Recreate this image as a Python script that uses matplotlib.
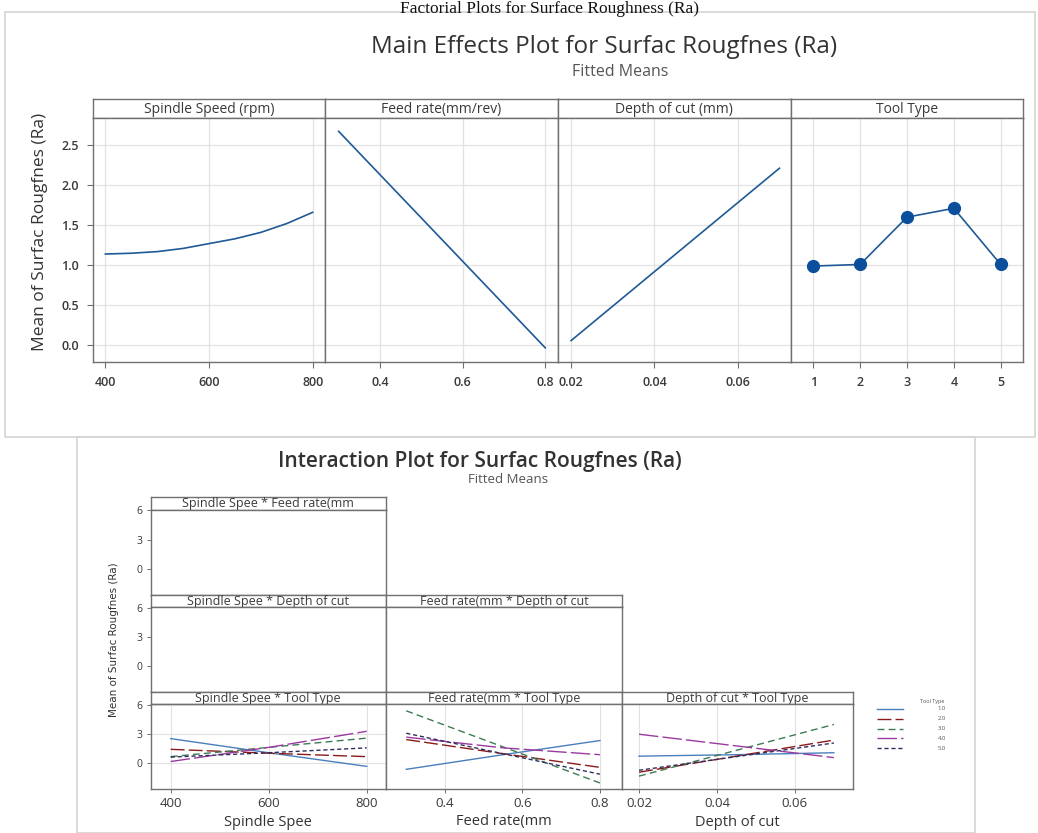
import matplotlib
matplotlib.use("Agg")
import matplotlib.pyplot as plt
from matplotlib.patches import Rectangle
import numpy as np

plt.rcParams['font.family'] = ['Open Sans', 'DejaVu Sans']

W, H = 1038, 833
fig = plt.figure(figsize=(W / 100, H / 100), dpi=100)

# ---------------- data ----------------
caption = "Factorial Plots for Surface Roughness (Ra)"
main_title = "Main Effects Plot for Surfac Rougfnes (Ra)"
sub_title = "Fitted Means"
main_ylabel = "Mean of Surfac Rougfnes (Ra)"

factor_names = ["Spindle Speed (rpm)", "Feed rate(mm/rev)", "Depth of cut (mm)", "Tool Type"]

speed_x = [400, 450, 500, 550, 600, 650, 700, 750, 800]
speed_y = [1.14, 1.15, 1.17, 1.21, 1.27, 1.33, 1.41, 1.52, 1.66]
feed_x = [0.3, 0.8]
feed_y = [2.67, -0.03]
depth_x = [0.02, 0.07]
depth_y = [0.06, 2.21]
tool_x = [1, 2, 3, 4, 5]
tool_y = [0.99, 1.01, 1.60, 1.71, 1.01]

main_yticks = [0.0, 0.5, 1.0, 1.5, 2.0, 2.5]
speed_ticks = [400, 600, 800]
feed_ticks = [0.4, 0.6, 0.8]
depth_ticks = [0.02, 0.04, 0.06]

inter_title = "Interaction Plot for Surfac Rougfnes (Ra)"
tool_levels = ["1.0", "2.0", "3.0", "4.0", "5.0"]

int_speed_x = [400, 600, 800]
int_speed_y = [[2.55, 1.10, -0.30],
               [1.45, 1.05, 0.70],
               [0.70, 1.65, 2.60],
               [0.20, 1.65, 3.30],
               [0.65, 1.10, 1.60]]
int_feed_x = [0.3, 0.55, 0.8]
int_feed_y = [[-0.60, 0.90, 2.35],
              [2.45, 1.00, -0.40],
              [5.40, 1.70, -2.00],
              [2.70, 1.60, 0.90],
              [3.10, 1.00, -1.10]]
int_depth_x = [0.02, 0.045, 0.07]
int_depth_y = [[0.75, 0.90, 1.10],
               [-0.90, 0.75, 2.40],
               [-1.30, 1.35, 4.00],
               [3.00, 1.80, 0.60],
               [-0.70, 0.70, 2.10]]
int_yticks = [0, 3, 6]
int_xnames = ["Spindle Spee", "Feed rate(mm", "Depth of cut"]
int_strips = [["Spindle Spee * Feed rate(mm", None, None],
              ["Spindle Spee * Depth of cut", "Feed rate(mm * Depth of cut", None],
              ["Spindle Spee * Tool Type", "Feed rate(mm * Tool Type", "Depth of cut * Tool Type"]]

# ---------------- helpers ----------------
def px_axes(x0, y0, x1, y1, **kw):
    return fig.add_axes([x0 / W, 1 - y1 / H, (x1 - x0) / W, (y1 - y0) / H], **kw)

TXT = "#3a3a3a"
SPINE = "#707070"
GRID = "#e2e2e2"

def frame(x0, y0, x1, y1, color="#d4d4d4"):
    bg = px_axes(0, 0, W, H)
    bg.set_xlim(0, W); bg.set_ylim(H, 0); bg.axis("off")
    bg.add_patch(Rectangle((x0, y0), x1 - x0, y1 - y0, fill=False, ec=color, lw=1.2))
    return bg

def strip(x0, y0, x1, y1, label, size):
    s = px_axes(x0, y0, x1, y1)
    s.set_xticks([]); s.set_yticks([])
    for sp in s.spines.values():
        sp.set_color(SPINE); sp.set_linewidth(1.0)
    s.text(0.5, 0.45, label, ha="center", va="center", fontsize=size, color=TXT,
           transform=s.transAxes, clip_on=False)
    return s

# ---------------- frames & caption ----------------
bg = frame(5, 12, 1035, 437)
frame(77, 437, 975, 833)
bg.text(550, 13, caption, ha="center", va="baseline", fontsize=12.5,
        family=["Liberation Serif", "DejaVu Serif"], color="#111111")

# ---------------- main effects ----------------
fig.text(604 / W, 1 - 47 / H, main_title, ha="center", va="center", fontsize=17.5, color="#333333")
fig.text(620 / W, 1 - 72 / H, sub_title, ha="center", va="center", fontsize=11.5, color="#555555")
fig.text(40 / W, 1 - 232 / H, main_ylabel, ha="center", va="center", rotation=90, fontsize=12.5, color="#333333")

cols = [(92.7, 325), (325, 557.7), (557.7, 790.7), (790.7, 1022.7)]
xlims = [(375.5, 823.8), (0.267, 0.83), (0.0168, 0.0727), (0.517, 5.47)]
ylim = (-0.21, 2.84)
blue = "#1f5a96"
series = [(speed_x, speed_y, speed_ticks, [str(t) for t in speed_ticks]),
          (feed_x, feed_y, feed_ticks, [f"{t:.1f}" for t in feed_ticks]),
          (depth_x, depth_y, depth_ticks, [f"{t:.2f}" for t in depth_ticks]),
          (tool_x, tool_y, tool_x, [str(t) for t in tool_x])]
for i, ((x0, x1), xl, (sx, sy, tk, tl)) in enumerate(zip(cols, xlims, series)):
    strip(x0, 99.3, x1, 117.7, factor_names[i], 10)
    ax = px_axes(x0, 117.7, x1, 362.3)
    ax.set_xlim(*xl); ax.set_ylim(*ylim)
    ax.set_xticks(tk); ax.set_xticklabels(tl, fontweight="semibold")
    ax.set_yticks(main_yticks)
    if i == 0:
        ax.set_yticklabels([f"{v:.1f}" for v in main_yticks], fontweight="semibold")
    else:
        ax.tick_params(axis="y", left=False, labelleft=False)
    ax.tick_params(labelsize=9, colors=SPINE, labelcolor=TXT, length=4, width=0.8, pad=6)
    ax.grid(True, color=GRID, lw=0.9)
    ax.set_axisbelow(True)
    for sp in ax.spines.values():
        sp.set_color(SPINE); sp.set_linewidth(1.0)
    if i == 3:
        ax.plot(sx, sy, color=blue, lw=1.2, marker="o", ms=8.5, mfc="#0b4f9c", mec="#0b4f9c")
    else:
        ax.plot(sx, sy, color=blue, lw=1.2)

# ---------------- interaction ----------------
fig.text(480 / W, 1 - 462 / H, inter_title, ha="center", va="center", fontsize=15,
         fontweight="semibold", color="#333333")
fig.text(508 / W, 1 - 479 / H, sub_title, ha="center", va="center", fontsize=9.5, color="#555555")
fig.text(114 / W, 1 - 640 / H, main_ylabel, ha="center", va="center", rotation=90, fontsize=7.5,
         family=["Liberation Sans Narrow", "DejaVu Sans"], color="#333333")

icols = [(150.5, 386), (386, 622), (622, 853)]
ixlims = [(358.8, 839.4), (0.2477, 0.857), (0.01564, 0.0749)]
irows = [(497, 509.5, 595), (595, 607, 692), (692, 704, 789)]
iylim = (-2.62, 6.1)
ixdata = [int_speed_x, int_feed_x, int_depth_x]
iydata = [int_speed_y, int_feed_y, int_depth_y]
ixticks = [speed_ticks, feed_ticks, depth_ticks]
ixtl = [[str(t) for t in speed_ticks], [f"{t:.1f}" for t in feed_ticks], [f"{t:.2f}" for t in depth_ticks]]

lcolors = ["#4a7fbd", "#8b1a1a", "#3d7a52", "#9a3aa0", "#2f2f5f"]
ldash = [None, (10, 3), (5, 3), (14, 3), (3, 2)]

for r, (st, sb, ab) in enumerate(irows):
    for c in range(r + 1):
        x0, x1 = icols[c]
        strip(x0, st, x1, sb, int_strips[r][c], 9)
        ax = px_axes(x0, sb, x1, ab)
        ax.set_xlim(*ixlims[c]); ax.set_ylim(*iylim)
        for sp in ax.spines.values():
            sp.set_color(SPINE); sp.set_linewidth(1.0)
        ax.tick_params(axis="y", labelsize=7.5, colors=SPINE, labelcolor=TXT, length=3, width=0.7, pad=3)
        ax.tick_params(axis="x", labelsize=9.5, colors=SPINE, labelcolor=TXT, length=3, width=0.7, pad=3)
        if c == 0:
            ax.set_yticks(int_yticks)
        else:
            ax.set_yticks([])
        if r == 2:
            ax.set_xticks(ixticks[c]); ax.set_xticklabels(ixtl[c])
            ax.set_xlabel(int_xnames[c], fontsize=10.5, color="#333333", labelpad=3)
            ax.grid(True, color=GRID, lw=0.8)
            ax.set_axisbelow(True)
            for k in range(5):
                ln, = ax.plot(ixdata[c], iydata[c][k], color=lcolors[k], lw=1.0)
                if ldash[k] is not None:
                    ln.set_dashes(ldash[k])
        else:
            ax.set_xticks([])

# legend
lg = px_axes(870, 695, 972, 755)
lg.set_xlim(0, 102); lg.set_ylim(60, 0); lg.axis("off")
lg.text(62, 6, "Tool Type", fontsize=4, ha="center", va="center", color="#555555")
for k, lab in enumerate(tool_levels):
    yy = 14 + k * 9.8
    l, = lg.plot([7, 33], [yy, yy], color=lcolors[k], lw=1.0)
    if ldash[k] is not None:
        l.set_dashes(ldash[k])
    lg.text(72, yy, lab, fontsize=4.2, ha="center", va="center", color="#555555")

fig.savefig("out.png", dpi=100)
